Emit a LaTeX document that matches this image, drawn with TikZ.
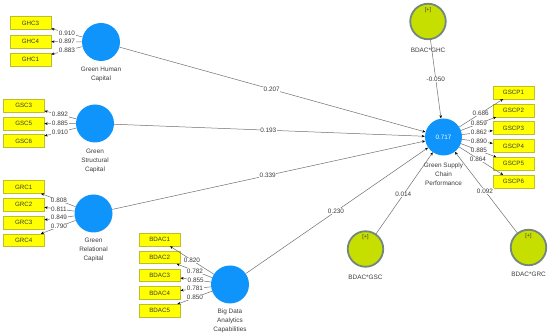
\documentclass[tikz,border=0pt]{standalone}
\usepackage{fontspec}
\setmainfont{Liberation Sans}
\usetikzlibrary{arrows.meta}
\definecolor{lvblue}{RGB}{15,148,252}
\definecolor{ivgreen}{RGB}{198,222,0}
\definecolor{ivborder}{RGB}{115,135,125}
\definecolor{indyellow}{RGB}{255,255,0}
\definecolor{indborder}{RGB}{190,190,40}
\definecolor{linegray}{RGB}{110,110,110}
\definecolor{txtgray}{RGB}{60,60,60}
\begin{document}
\begin{tikzpicture}[x=1pt,y=-1pt,
  lv/.style={circle,fill=lvblue,minimum size=38pt,inner sep=0pt,text=white,font=\fontsize{6.3}{7}\selectfont},
  iv/.style={circle,fill=ivgreen,draw=ivborder,line width=1.8pt,minimum size=35.5pt,inner sep=0pt},
  ind/.style={rectangle,fill=indyellow,draw=indborder,line width=0.5pt,minimum width=41pt,minimum height=12.6pt,inner sep=0pt,font=\fontsize{6.2}{7}\selectfont,text=txtgray},
  captxt/.style={align=center,font=\fontsize{6.4}{9}\selectfont,text=txtgray,inner sep=0pt},
  num/.style={fill=white,inner sep=0.5pt,font=\fontsize{6.4}{7}\selectfont,text=txtgray},
  plus/.style={font=\fontsize{5.5}{6}\selectfont,text=txtgray,inner sep=0pt},
  arr/.style={draw=linegray,line width=0.5pt,-{Stealth[length=3.2pt,width=2.6pt,color=black]}},
]
\useasboundingbox (0,0) rectangle (550,336);

% latent variables
\node[lv] (GHC) at (101,42) {};
\node[lv] (GSC) at (95,123.5) {};
\node[lv] (GRC) at (93.5,213.5) {};
\node[lv] (BDAC) at (230,284.5) {};
\node[lv,minimum size=37pt] (GSCP) at (443.5,137) {0.717};

% interaction terms
\node[iv] (BGHC) at (428,21.5) {};
\node[iv] (BGSC) at (365.5,249) {};
\node[iv] (BGRC) at (528.5,247.5) {};
\node[plus] (BGHCp) at (428,10) {[+]};
\node[plus] (BGSCp) at (365.5,237.5) {[+]};
\node[plus] (BGRCp) at (528.5,236) {[+]};

% captions
\node[captxt] (GHCc) at (101,74.5) {Green Human\\Capital};
\node[captxt] (GSCc) at (95,161) {Green\\Structural\\Capital};
\node[captxt] (GRCc) at (93.5,250) {Green\\Relational\\Capital};
\node[captxt] (BDACc) at (230,320.5) {Big Data\\Analytics\\Capabilities};
\node[captxt] (GSCPc) at (443.5,174) {Green Supply\\Chain\\Performance};
\node[captxt] (BGHCc) at (428,50) {BDAC*GHC};
\node[captxt] (BGSCc) at (365.5,277.5) {BDAC*GSC};
\node[captxt] (BGRCc) at (528.5,274.5) {BDAC*GRC};

% indicators
\node[ind] (GHC3) at (30.5,23) {GHC3};
\node[ind] (GHC4) at (30.5,41.5) {GHC4};
\node[ind] (GHC1) at (30.5,59.5) {GHC1};
\node[ind] (GSC3) at (23.7,105.7) {GSC3};
\node[ind] (GSC5) at (23.7,123.7) {GSC5};
\node[ind] (GSC6) at (23.7,141) {GSC6};
\node[ind] (GRC1) at (23.7,187) {GRC1};
\node[ind] (GRC2) at (23.7,204.7) {GRC2};
\node[ind] (GRC3) at (23.7,222.5) {GRC3};
\node[ind] (GRC4) at (23.7,240.3) {GRC4};
\node[ind] (BDAC1) at (159.7,239.7) {BDAC1};
\node[ind] (BDAC2) at (159.7,257.3) {BDAC2};
\node[ind] (BDAC3) at (159.7,275.3) {BDAC3};
\node[ind] (BDAC4) at (159.7,293) {BDAC4};
\node[ind] (BDAC5) at (159.7,310.7) {BDAC5};
\node[ind] (GSCP1) at (513.5,92.5) {GSCP1};
\node[ind] (GSCP2) at (513.5,110.5) {GSCP2};
\node[ind] (GSCP3) at (513.5,128) {GSCP3};
\node[ind] (GSCP4) at (513.5,146) {GSCP4};
\node[ind] (GSCP5) at (513.5,163.7) {GSCP5};
\node[ind] (GSCP6) at (513.5,181.5) {GSCP6};

% outer loadings
\draw[arr] (GHC) -- (GHC3);
\draw[arr] (GHC) -- (GHC4);
\draw[arr] (GHC) -- (GHC1);
\draw[arr] (GSC) -- (GSC3);
\draw[arr] (GSC) -- (GSC5);
\draw[arr] (GSC) -- (GSC6);
\draw[arr] (GRC) -- (GRC1);
\draw[arr] (GRC) -- (GRC2);
\draw[arr] (GRC) -- (GRC3);
\draw[arr] (GRC) -- (GRC4);
\draw[arr] (BDAC) -- (BDAC1);
\draw[arr] (BDAC) -- (BDAC2);
\draw[arr] (BDAC) -- (BDAC3);
\draw[arr] (BDAC) -- (BDAC4);
\draw[arr] (BDAC) -- (BDAC5);
\draw[arr] (GSCP) -- (GSCP1);
\draw[arr] (GSCP) -- (GSCP2);
\draw[arr] (GSCP) -- (GSCP3);
\draw[arr] (GSCP) -- (GSCP4);
\draw[arr] (GSCP) -- (GSCP5);
\draw[arr] (GSCP) -- (GSCP6);

% structural paths
\draw[arr] (GHC) -- (GSCP);
\draw[arr] (GSC) -- (GSCP);
\draw[arr] (GRC) -- (GSCP);
\draw[arr] (BDAC) -- (GSCP);
\draw[arr] (BGHC) -- (GSCP);
\draw[arr] (BGSC) -- (GSCP);
\draw[arr] (BGRC) -- (GSCP);

% loading labels
\node[num] (l1) at (67,33) {0.910};
\node[num] (l2) at (67,41.7) {0.897};
\node[num] (l3) at (67,50.2) {0.883};
\node[num] (l4) at (60,114.8) {0.892};
\node[num] (l5) at (60,123.6) {0.885};
\node[num] (l6) at (60,132.2) {0.910};
\node[num] (l7) at (59,200.5) {0.808};
\node[num] (l8) at (59,209.2) {0.811};
\node[num] (l9) at (59,217.7) {0.849};
\node[num] (l10) at (59,226.7) {0.790};
\node[num] (l11) at (192,260.3) {0.820};
\node[num] (l12) at (195,271) {0.782};
\node[num] (l13) at (195.7,280) {0.855};
\node[num] (l14) at (195,288.7) {0.781};
\node[num] (l15) at (195,297.5) {0.850};
\node[num] (l16) at (480.7,113.4) {0.686};
\node[num] (l17) at (479,123.6) {0.859};
\node[num] (l18) at (479,132.4) {0.862};
\node[num] (l19) at (479,141.6) {0.890};
\node[num] (l20) at (479,150.5) {0.885};
\node[num] (l21) at (478,159.3) {0.864};

% path labels
\node[num] (p1) at (271.7,89.3) {0.207};
\node[num] (p2) at (268.3,130.2) {0.193};
\node[num] (p3) at (267.7,175.4) {0.339};
\node[num] (p4) at (336,211.2) {0.230};
\node[num] (p5) at (403.3,194.5) {0.014};
\node[num] (p6) at (485,191) {0.092};
\node[num] (p7) at (435.8,79.3) {-0.050};
\end{tikzpicture}
\end{document}
